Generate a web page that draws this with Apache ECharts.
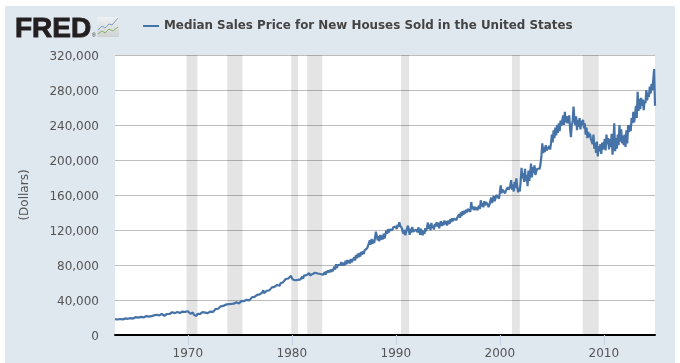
<!DOCTYPE html>
<html>
<head>
<meta charset="utf-8">
<style>html,body{margin:0;padding:0;background:#fff}#chart{width:680px;height:363px}</style>
<script src="https://cdn.jsdelivr.net/npm/echarts@6/dist/echarts.min.js"></script>
</head>
<body>
<div id="chart"></div>
<script>
// Monthly median sale price, in hundreds of dollars (one row per year).
const prices1960s = [
  182,176,184,177,186,178,183,176,185,178,184,186,
  190,183,192,185,195,186,193,187,195,188,197,192,
  205,195,207,199,209,197,207,200,212,201,210,205,
  216,206,222,210,224,226,215,222,212,224,211,226,
  232,218,234,224,232,222,240,226,233,220,238,230,
  240,232,248,240,258,242,260,250,258,250,266,248,
  264,254,272,252,270,262,268,254,274,264,270,252
];
const prices1970s = [
  272,252,258,242,260,240,256,232,238,222,218,242,
  232,248,240,258,242,262,248,264,256,246,264,250,
  266,258,268,262,280,264,284,278,296,286,304,300,
  318,310,328,324,346,332,350,330,348,340,356,352,
  358,350,354,356,362,358,366,346,374,364,368,360,
  380,372,390,386,394,388,408,384,402,392,414,396,
  412,406,430,430,436,436,454,438,458,452,468,464,
  476,470,488,512,478,500,500,506,506,526,510,530,
  522,544,528,556,550,568,548,572,570,586,564,592,
  586,606,604,624,620,640,634,656,646,668,650,676
];
const prices1980s = [
  656,634,636,640,626,626,646,630,652,646,636,654,
  666,642,678,674,670,684,682,682,708,680,702,684,
  698,702,713,712,708,708,703,704,698,697,684,690,
  688,692,720,687,733,710,738,714,746,717,750,727,
  753,780,747,808,767,798,777,808,802,833,792,823,
  833,797,848,807,858,822,853,817,868,832,843,847,
  888,852,913,877,928,887,938,897,948,917,958,927,
  968,977,978,992,993,1002,1083,1032,1098,1042,1088,1052,
  1113,1180,1138,1082,1128,1072,1143,1087,1138,1092,1158,1102,
  1148,1195,1158,1210,1173,1205,1188,1225,1198,1230,1208,1235
];
const prices1990s = [
  1240,1210,1260,1235,1290,1250,1265,1220,1180,1155,1200,1140,
  1150,1220,1250,1190,1145,1215,1170,1235,1180,1195,1165,1205,
  1210,1175,1230,1190,1145,1215,1170,1140,1195,1155,1220,1185,
  1230,1285,1215,1260,1195,1280,1225,1250,1205,1270,1240,1290,
  1240,1285,1220,1270,1300,1245,1290,1255,1310,1265,1300,1250,
  1305,1320,1270,1325,1290,1335,1300,1330,1310,1340,1315,1345,
  1350,1380,1340,1400,1360,1415,1375,1420,1390,1430,1400,1440,
  1425,1455,1410,1520,1440,1470,1425,1465,1430,1460,1425,1450,
  1480,1440,1540,1470,1510,1460,1530,1480,1520,1500,1490,1460,
  1490,1530,1570,1510,1550,1590,1530,1560,1600,1580,1620,1560
];
const prices2000s = [
  1630,1710,1620,1660,1640,1680,1620,1650,1630,1690,1660,1640,
  1700,1770,1660,1720,1640,1750,1680,1790,1700,1630,1680,1640,
  1750,1910,1790,1850,1750,1900,1760,1830,1700,1880,1760,1850,
  1960,1800,1920,1850,1940,1830,1870,1900,1880,1920,1900,1960,
  2050,2190,2080,2150,2090,2170,2110,2130,2100,2160,2120,2190,
  2290,2200,2340,2250,2370,2280,2400,2310,2420,2330,2450,2390,
  2450,2510,2400,2550,2430,2500,2420,2460,2510,2360,2260,2400,
  2440,2610,2470,2400,2500,2340,2460,2380,2480,2350,2450,2400,
  2460,2360,2420,2290,2370,2250,2320,2260,2300,2240,2250,2180,
  2290,2130,2200,2080,2210,2040,2160,2100,2180,2070,2200,2120
];
const prices2010s = [
  2170,2240,2110,2290,2180,2250,2120,2240,2150,2300,2060,2200,
  2420,2100,2250,2130,2290,2170,2400,2210,2350,2190,2280,2170,
  2290,2150,2340,2190,2400,2320,2400,2330,2480,2420,2550,2430,
  2510,2620,2480,2780,2560,2700,2580,2710,2620,2690,2570,2680,
  2650,2800,2680,2770,2720,2840,2760,2870,2800,2820,3040,2620
];
const decadeTicks = [1970,1980,1990,2000,2010];
// shaded recession bands as [start, end] in decimal years
const recessions = [
  [1969.87,1970.92],[1973.8,1975.25],[1979.95,1980.6],
  [1981.48,1982.92],[1990.5,1991.28],[2001.16,2001.92],[2007.97,2009.5]
];
const seriesName = 'Median Sales Price for New Houses Sold in the United States';
const axisName = '(Dollars)';

const monthly = [].concat(prices1960s,prices1970s,prices1980s,prices1990s,prices2000s,prices2010s);
const points = monthly.map((v,i)=>[1963+i/12, v*100]);

const chart = echarts.init(document.getElementById('chart'),null,{renderer:'canvas'});
chart.setOption({
  animation:false,
  backgroundColor:'#ffffff',
  textStyle:{fontFamily:'DejaVu Sans'},
  grid:{left:115,right:25,top:55,bottom:28,show:true,backgroundColor:'#ffffff',borderWidth:0},
  legend:{
    left:143,top:20,icon:'rect',itemWidth:16,itemHeight:2,itemGap:5,
    textStyle:{fontFamily:'DejaVu Sans',fontSize:11.9,fontWeight:'bold',color:'#444444'},
    padding:0,
    data:[{name:seriesName}],selectedMode:false
  },
  xAxis:{
    type:'value',
    min:points[0][0],max:points[points.length-1][0],
    axisLine:{show:true,onZero:false,lineStyle:{color:'#000000',width:2}},
    axisTick:{show:true,length:10,lineStyle:{color:'#c0d0e0',width:1},customValues:decadeTicks},
    axisLabel:{
      color:'#555555',fontSize:12,margin:13,
      customValues:decadeTicks,
      formatter:v=>String(Math.round(v))
    },
    splitLine:{show:false}
  },
  yAxis:{
    type:'value',min:0,max:320000,interval:40000,
    name:axisName,nameLocation:'middle',nameGap:84,nameRotate:90,
    nameTextStyle:{color:'#555555',fontSize:12,fontFamily:'DejaVu Sans'},
    axisLine:{show:false},axisTick:{show:false},
    axisLabel:{
      color:'#555555',fontSize:12,margin:16,verticalAlign:'top',lineHeight:4,
      formatter:v=>v.toLocaleString('en-US')
    },
    splitLine:{show:true,lineStyle:{color:'#bdbdbd',width:1}}
  },
  series:[{
    name:seriesName,type:'line',data:points,
    showSymbol:false,symbol:'none',
    itemStyle:{color:'#4572a7'},
    lineStyle:{color:'#4572a7',width:2.2},
    markArea:{
      silent:true,
      itemStyle:{color:'rgba(0,0,0,0.105)'},
      label:{show:false},
      data:recessions.map(r=>[{xAxis:r[0]},{xAxis:r[1]}])
    },
    z:3
  }],
  graphic:[
    {type:'rect',z:-1,silent:true,shape:{x:5,y:6,width:670,height:357},style:{fill:'#dfe7ef'}},
    {type:'text',x:15,y:15,silent:true,style:{text:'FRED',font:'bold 28px "Liberation Sans"',fill:'#231f20',stroke:'#231f20',lineWidth:0.9}},
    {type:'text',x:92,y:33,silent:true,style:{text:'®',font:'5px "Liberation Sans"',fill:'#231f20'}},
    {type:'rect',silent:true,shape:{x:97,y:17,width:22,height:20,r:1},
      style:{fill:{type:'linear',x:0,y:0,x2:0,y2:1,colorStops:[{offset:0,color:'#eef2f5'},{offset:1,color:'#cfd2d2'}]}}},
    {type:'polyline',silent:true,shape:{points:[[98,30],[102,26],[105,28],[109,24],[112,25],[118,18]]},style:{stroke:'#7f9fc2',lineWidth:1,fill:'none'}},
    {type:'polyline',silent:true,shape:{points:[[98,34],[102,31],[105,33],[109,29],[113,31],[118,27]]},style:{stroke:'#8fae66',lineWidth:1,fill:'none'}}
  ]
});
</script>
</body>
</html>
